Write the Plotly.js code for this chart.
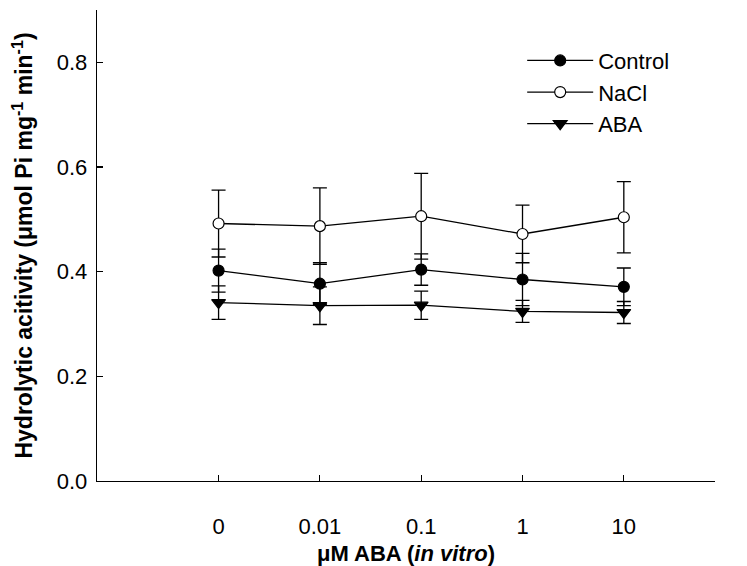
<!DOCTYPE html>
<html>
<head>
<meta charset="utf-8">
<script src="https://cdn.plot.ly/plotly-3.0.1.min.js"></script>
<style>html,body{margin:0;padding:0;background:#fff}</style>
</head>
<body>
<div id="chart" style="width:747px;height:566px"></div>
<script>
const categories = ["0", "0.01", "0.1", "1", "10"];
const controlMean = [0.402, 0.377, 0.404, 0.385, 0.371];
const controlErr  = [0.041, 0.040, 0.030, 0.050, 0.036];
const naclMean    = [0.492, 0.487, 0.506, 0.472, 0.504];
const naclErr     = [0.064, 0.073, 0.082, 0.055, 0.068];
const abaMean     = [0.341, 0.335, 0.336, 0.324, 0.322];
const abaErr      = [0.032, 0.036, 0.027, 0.021, 0.021];
const yTicks = [0, 0.2, 0.4, 0.6, 0.8];

const FONT = "Liberation Sans, Arial, sans-serif";
const FS = 22;

function series(name, y, err, symbol, fill) {
  return {
    type: "scatter", mode: "lines+markers", name: name,
    x: categories, y: y,
    line: {color: "#000", width: 1.3},
    marker: {symbol: symbol, size: symbol === "triangle-down" ? 12 : 11, color: fill, line: {color: "#000", width: 1.2}},
    error_y: {type: "data", array: err, visible: true, color: "#000", thickness: 1.3, width: 7}
  };
}

const data = [
  series("Control", controlMean, controlErr, "circle", "#000"),
  series("NaCl", naclMean, naclErr, "circle", "#fff"),
  series("ABA", abaMean, abaErr, "triangle-down", "#000")
];

const layout = {
  width: 747, height: 566,
  margin: {l: 97, r: 32, t: 10, b: 85},
  paper_bgcolor: "#fff", plot_bgcolor: "#fff",
  font: {family: FONT, size: FS, color: "#000"},
  showlegend: true,
  legend: {x: 0.688, y: 0.937, xanchor: "left", yanchor: "top", bgcolor: "rgba(0,0,0,0)",
           font: {family: FONT, size: FS, color: "#000"}, itemwidth: 66, tracegroupgap: 0},
  xaxis: {
    type: "category", categoryarray: categories, range: [-1.2, 4.9],
    showline: true, linecolor: "#000", linewidth: 1.3, mirror: false,
    showgrid: false, zeroline: false,
    ticks: "inside", ticklen: 6, tickwidth: 1.2, tickcolor: "#000",
    ticklabelstandoff: 25,
    tickfont: {family: FONT, size: FS, color: "#000"},
    title: {text: "<b>μM ABA (<i>in vitro</i>)</b>", font: {family: FONT, size: FS, color: "#000"}, standoff: 15}
  },
  yaxis: {
    range: [0, 0.9], tickvals: yTicks, tickformat: ".1f",
    showline: true, linecolor: "#000", linewidth: 1.3, mirror: false,
    showgrid: false, zeroline: false,
    ticks: "inside", ticklen: 6, tickwidth: 1.2, tickcolor: "#000",
    ticklabelstandoff: 4,
    tickfont: {family: FONT, size: FS, color: "#000"},
    title: {text: "<b>Hydrolytic acitivity (μmol Pi mg<sup>-1</sup> min<sup>-1</sup>)</b>", font: {family: FONT, size: 23, color: "#000"}, standoff: 17}
  }
};

Plotly.newPlot("chart", data, layout, {displayModeBar: false, staticPlot: true});
</script>
</body>
</html>
